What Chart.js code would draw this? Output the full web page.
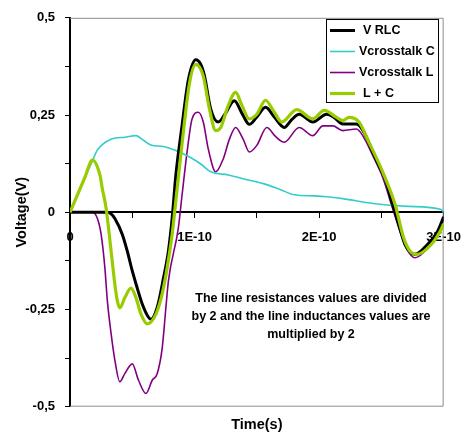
<!DOCTYPE html>
<html>
<head>
<meta charset="utf-8">
<script src="https://cdn.jsdelivr.net/npm/chart.js@4"></script>
<style>
  body { margin: 0; background: #fff; }
  canvas { display: block; }
</style>
</head>
<body>
<canvas id="chart" width="473" height="435"></canvas>
<script>
// time in units of 1E-10 s, voltage in V
const timeRlc = [0, 0.30, 0.33, 0.36, 0.42, 0.46, 0.50, 0.54, 0.58, 0.63, 0.65, 0.70, 0.75, 0.79, 0.82, 0.85, 0.90, 0.95, 1.01, 1.05, 1.08, 1.13, 1.19, 1.24, 1.32, 1.38, 1.44, 1.50, 1.57, 1.64, 1.72, 1.78, 1.84, 1.95, 2.06, 2.12, 2.19, 2.30, 2.36, 2.43, 2.48, 2.53, 2.59, 2.64, 2.69, 2.77, 2.87, 2.95, 3.0];
const vRlc = [0, 0, -0.004, -0.016, -0.057, -0.10, -0.151, -0.195, -0.236, -0.27, -0.275, -0.245, -0.17, -0.10, -0.016, 0.096, 0.224, 0.34, 0.392, 0.38, 0.35, 0.265, 0.232, 0.25, 0.287, 0.255, 0.226, 0.245, 0.27, 0.245, 0.218, 0.238, 0.252, 0.232, 0.252, 0.244, 0.227, 0.227, 0.206, 0.155, 0.12, 0.086, 0.02, -0.032, -0.083, -0.108, -0.083, -0.05, -0.012];

const timeCrossC = [0, 0.12, 0.18, 0.22, 0.33, 0.44, 0.53, 0.59, 0.65, 0.75, 0.85, 0.96, 1.05, 1.13, 1.27, 1.43, 1.56, 1.69, 1.80, 1.96, 2.06, 2.19, 2.45, 2.72, 2.98, 3.0];
const vCrossC = [0, 0.088, 0.132, 0.16, 0.188, 0.193, 0.197, 0.185, 0.173, 0.169, 0.159, 0.142, 0.124, 0.104, 0.096, 0.083, 0.073, 0.058, 0.045, 0.042, 0.04, 0.035, 0.022, 0.015, 0.007, 0.0];

const timeCrossL = [0, 0.18, 0.22, 0.25, 0.28, 0.30, 0.33, 0.36, 0.40, 0.44, 0.50, 0.55, 0.61, 0.66, 0.70, 0.74, 0.77, 0.79, 0.87, 0.90, 0.94, 0.98, 1.03, 1.07, 1.11, 1.17, 1.23, 1.28, 1.33, 1.39, 1.44, 1.50, 1.58, 1.65, 1.72, 1.84, 1.95, 2.03, 2.11, 2.19, 2.30, 2.35, 2.43, 2.51, 2.59, 2.65, 2.70, 2.77, 2.85, 2.93, 3.0];
const vCrossL = [0, 0, -0.016, -0.057, -0.143, -0.228, -0.312, -0.38, -0.436, -0.415, -0.39, -0.432, -0.466, -0.432, -0.415, -0.35, -0.245, -0.177, -0.04, 0.045, 0.155, 0.24, 0.257, 0.232, 0.163, 0.104, 0.137, 0.188, 0.218, 0.188, 0.155, 0.172, 0.218, 0.195, 0.18, 0.218, 0.197, 0.222, 0.222, 0.21, 0.214, 0.197, 0.146, 0.09, 0.01, -0.05, -0.092, -0.117, -0.1, -0.067, -0.02];

const timeLC = [0, 0.12, 0.18, 0.24, 0.26, 0.29, 0.33, 0.36, 0.38, 0.40, 0.44, 0.49, 0.53, 0.57, 0.62, 0.69, 0.74, 0.78, 0.82, 0.84, 0.86, 0.91, 0.96, 1.01, 1.07, 1.12, 1.17, 1.21, 1.27, 1.33, 1.38, 1.44, 1.50, 1.57, 1.64, 1.70, 1.82, 1.95, 2.04, 2.14, 2.19, 2.24, 2.32, 2.40, 2.51, 2.61, 2.68, 2.73, 2.79, 2.90, 2.97, 3.0];
const vLC = [0, 0.09, 0.134, 0.096, 0.06, 0.01, -0.10, -0.185, -0.228, -0.246, -0.22, -0.195, -0.22, -0.262, -0.287, -0.262, -0.21, -0.143, -0.057, 0, 0.06, 0.206, 0.333, 0.38, 0.35, 0.265, 0.21, 0.218, 0.274, 0.308, 0.275, 0.24, 0.252, 0.288, 0.257, 0.232, 0.264, 0.24, 0.262, 0.244, 0.236, 0.244, 0.232, 0.18, 0.104, 0.02, -0.067, -0.1, -0.108, -0.083, -0.05, -0.03];

const seriesLabels = ["V RLC", "Vcrosstalk C", "Vcrosstalk L", "L + C"];
const noteLines = [
    "The line resistances values are divided",
    "by 2 and the line inductances values are",
    "multiplied by 2"
];

const FONT = "'Liberation Sans', Arial, sans-serif";

function toPoints(ts, vs) {
    return ts.map((t, i) => ({ x: t, y: vs[i] }));
}

function makeSet(label, ts, vs, color, width, order) {
    return {
        label: label,
        data: toPoints(ts, vs),
        borderColor: color,
        backgroundColor: color,
        borderWidth: width,
        pointRadius: 0,
        cubicInterpolationMode: "monotone",
        fill: false,
        order: order
    };
}

// grey frame on top / right / bottom of the plot area
const framePlugin = {
    id: "frame",
    beforeDatasetsDraw(chart) {
        const { ctx, chartArea: a } = chart;
        ctx.save();
        ctx.strokeStyle = "#8c8c8c";
        ctx.lineWidth = 1;
        ctx.beginPath();
        ctx.moveTo(a.left, a.top + 0.5);
        ctx.lineTo(a.right - 0.5, a.top + 0.5);
        ctx.lineTo(a.right - 0.5, a.bottom - 0.5);
        ctx.lineTo(a.left, a.bottom - 0.5);
        ctx.stroke();
        ctx.restore();
    }
};

// boxed legend in the upper right and the note under the curves
const legendNotePlugin = {
    id: "legendNote",
    afterDraw(chart) {
        const ctx = chart.ctx;
        ctx.save();
        ctx.fillStyle = "#fff";
        ctx.fillRect(326, 19, 113, 84);
        ctx.strokeStyle = "#000";
        ctx.lineWidth = 1;
        ctx.strokeRect(326.5, 19.5, 112, 83);

        ctx.font = "bold 12.5px " + FONT;
        ctx.textBaseline = "middle";
        ctx.textAlign = "left";
        chart.data.datasets.forEach((ds, i) => {
            const y = 30.5 + i * 21;
            ctx.strokeStyle = ds.borderColor;
            ctx.lineWidth = ds.borderWidth;
            ctx.beginPath();
            ctx.moveTo(330, y);
            ctx.lineTo(355, y);
            ctx.stroke();
            ctx.fillStyle = "#000";
            const tx = (i === 0 || i === 3) ? 363 : 359;
            ctx.fillText(ds.label, tx, y + 0.5);
        });

        ctx.font = "bold 12.5px " + FONT;
        ctx.textAlign = "center";
        noteLines.forEach((line, i) => {
            ctx.fillText(line, 311, 299 + i * 18);
        });
        ctx.restore();
    }
};

const ctx = document.getElementById("chart").getContext("2d");

new Chart(ctx, {
    type: "line",
    data: {
        datasets: [
            makeSet(seriesLabels[0], timeRlc, vRlc, "#000000", 3, 1),
            makeSet(seriesLabels[1], timeCrossC, vCrossC, "#33CCCC", 1.6, 2),
            makeSet(seriesLabels[2], timeCrossL, vCrossL, "#800080", 1.6, 3),
            makeSet(seriesLabels[3], timeLC, vLC, "#99CC00", 3.2, 0)
        ]
    },
    options: {
        responsive: false,
        animation: false,
        layout: { padding: { top: 15, right: 24, left: 0, bottom: 0 } },
        plugins: {
            legend: { display: false },
            tooltip: { enabled: false }
        },
        scales: {
            x: {
                type: "linear",
                position: { y: 0 },
                min: 0,
                max: 3,
                ticks: {
                    stepSize: 0.5,
                    autoSkip: false,
                    maxRotation: 0,
                    padding: 12,
                    color: "#000",
                    font: { family: FONT, size: 13, weight: "bold" },
                    callback: v => Number.isInteger(v) ? (v === 0 ? "0" : v + "E-10") : ""
                },
                grid: { drawOnChartArea: false, tickLength: 5, color: "#000" },
                border: { color: "#000", width: 2 }
            },
            x2: {
                type: "linear",
                position: "bottom",
                min: 0,
                max: 3,
                ticks: { display: false },
                grid: { display: false },
                border: { display: false },
                title: {
                    display: true,
                    text: "Time(s)",
                    color: "#000",
                    font: { family: FONT, size: 14.5, weight: "bold" },
                    padding: { top: 0, bottom: 1 }
                },
                afterFit: s => { s.height = 28.3; }
            },
            y: {
                min: -0.5,
                max: 0.5,
                ticks: {
                    stepSize: 0.125,
                    autoSkip: false,
                    padding: 10,
                    color: "#000",
                    font: { family: FONT, size: 13, weight: "bold" },
                    callback: v => Math.abs(v * 4 - Math.round(v * 4)) < 1e-9 ? String(v).replace(".", ",") : ""
                },
                grid: { drawOnChartArea: false, tickLength: 5, color: "#000" },
                border: { color: "#000", width: 2 },
                title: {
                    display: true,
                    text: "Voltage(V)",
                    color: "#000",
                    font: { family: FONT, size: 14.5, weight: "bold" },
                    padding: { top: 13, bottom: 0 }
                },
                afterFit: s => { s.width = 70; }
            }
        }
    },
    plugins: [framePlugin, legendNotePlugin]
});
</script>
</body>
</html>
